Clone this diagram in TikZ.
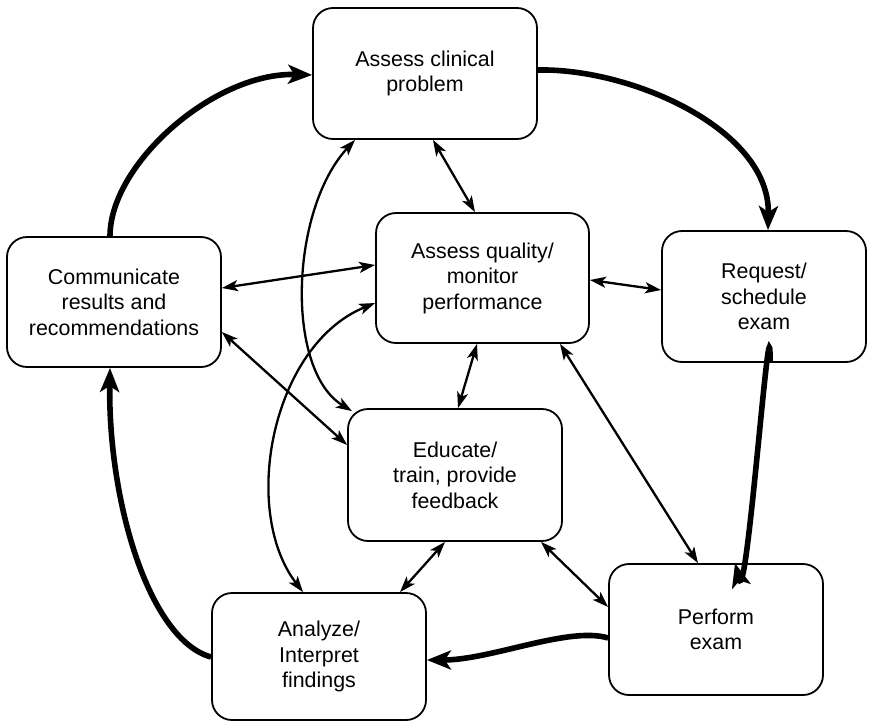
\documentclass[tikz,border=0pt]{standalone}
\usepackage{fontspec}
\setmainfont{Liberation Sans}
\usetikzlibrary{arrows.meta}
\begin{document}
\begin{tikzpicture}[x=1pt,y=-1pt,
  box/.style={draw,line width=1.8pt,rounded corners=20pt,align=center,
    inner sep=0pt,font=\fontsize{21.4}{25.5}\selectfont},
  thinarr/.style={line width=2.3pt,{Stealth[length=16pt,width=11pt,inset=4pt]}-{Stealth[length=16pt,width=11pt,inset=4pt]}},
  thickarr/.style={line width=5.6pt,-{Stealth[length=24pt,width=19pt,inset=6pt]}}]
\useasboundingbox (0,0) rectangle (869,723);
\node[box,minimum width=224pt,minimum height=131pt] (clin) at (425,73.5) {Assess clinical\\problem};
\node[box,minimum width=214pt,minimum height=130pt] (comm) at (114,302) {Communicate\\results and\\recommendations};
\node[box,minimum width=213pt,minimum height=130pt] (qual) at (482.5,278) {Assess quality/\\monitor\\performance};
\node[box,minimum width=204pt,minimum height=131pt] (req) at (764,296.5) {Request/\\schedule\\exam};
\node[box,minimum width=214pt,minimum height=132pt] (educ) at (455,475) {Educate/\\train, provide\\feedback};
\node[box,minimum width=214pt,minimum height=131pt] (perf) at (716,629.5) {Perform\\exam};
\node[box,minimum width=214pt,minimum height=127pt] (anal) at (319,656.5) {Analyze/\\Interpret\\findings};
% thick cycle
\draw[thickarr] ([xshift=-4pt]comm.north) .. controls +(0,-72) and +(-98,-3) .. ([yshift=-1.5pt]clin.west);
\draw[thickarr] ([yshift=3.5pt]clin.east) .. controls +(93,-2) and +(2,-101) .. ([xshift=4pt]req.north);
\draw[thickarr] ([xshift=6pt]req.south) .. controls +(1,-90) and +(12,44) .. ([xshift=19pt]perf.north);
\draw[thickarr] ([yshift=-8.5pt]perf.west) .. controls +(-39,-12) and +(64,0) .. ([yshift=-3.5pt]anal.east);
\draw[thickarr] ([yshift=-0.5pt]anal.west) .. controls +(-62,-17) and +(-2,133) .. ([xshift=-4pt]comm.south);
% thin straight double arrows
\draw[thinarr] ([xshift=8pt]clin.south) -- ([xshift=-7.5pt]qual.north);
\draw[thinarr] ([yshift=14pt]comm.east) -- ([yshift=13pt]qual.west);
\draw[thinarr] ([yshift=-2pt]qual.east) -- ([yshift=6.5pt]req.west);
\draw[thinarr] ([xshift=-5.5pt]qual.south) -- ([xshift=3pt]educ.north);
\draw[thinarr] ([xshift=77.5pt]qual.south) -- ([xshift=-18pt]perf.north);
\draw[thinarr] ([yshift=-30pt]comm.east) -- ([yshift=30pt]educ.west);
\draw[thinarr] ([xshift=-10pt]educ.south) -- ([xshift=81pt]anal.north);
\draw[thinarr] ([xshift=86pt]educ.south) -- ([yshift=22.5pt]perf.west);
% thin curved double arrows
\draw[thinarr] ([xshift=-70pt]clin.south) .. controls (290,210) and (285,370) .. ([xshift=-103pt,yshift=-3pt]educ.north);
\draw[thinarr] ([yshift=-25pt]qual.west) .. controls (272,345) and (240,510) .. ([xshift=-16pt]anal.north);
\end{tikzpicture}
\end{document}
